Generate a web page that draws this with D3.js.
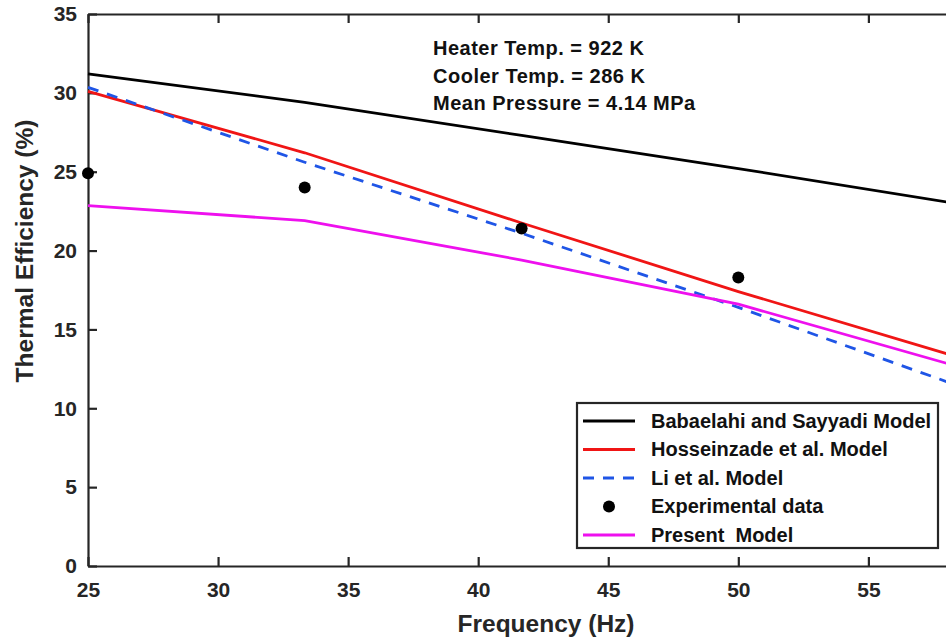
<!DOCTYPE html>
<html lang="en">
<head>
	<meta charset="UTF-8">
	<title>Thermal efficiency vs frequency</title>
	<script src="https://cdn.jsdelivr.net/npm/d3@7"></script>
	<style type="text/css">
		body { margin: 0; background: #fff; }
		svg { display: block; font-family: "Liberation Sans", Arial, sans-serif; font-weight: bold; }
		.axis path, .axis line { stroke: #262626; stroke-width: 2.2; }
		.axis text { fill: #262626; font-size: 21px; font-weight: bold; font-family: "Liberation Sans", Arial, sans-serif; }
		.series { fill: none; stroke-width: 2.8; }
		.legend text { font-size: 20px; fill: #111; white-space: pre; }
		.note text { font-size: 20px; fill: #111; letter-spacing: 0.5px; }
	</style>
</head>
<body>

<script type="text/javascript">
	// data
	var freq = [25, 33.33, 41.67, 50, 58.33];
	var babaelahi = [31.2, 29.4, 27.3, 25.2, 23.0];
	var hosseinzade = [30.1, 26.2, 21.75, 17.4, 13.3];
	var li = [30.35, 25.6, 21.1, 16.4, 11.5];
	var present = [22.85, 21.9, 19.4, 16.6, 12.7];
	var expFreq = [25, 33.33, 41.67, 50];
	var expEff = [24.9, 24.0, 21.4, 18.3];
	var xTicks = [25, 30, 35, 40, 45, 50, 55];
	var yTicks = [0, 5, 10, 15, 20, 25, 30, 35];
	var notes = ['Heater Temp. = 922 K', 'Cooler Temp. = 286 K', 'Mean Pressure = 4.14 MPa'];

	var width = 946, height = 641;
	var margin = {left: 88, right: 955, top: 14, bottom: 566};

	var svg = d3.select('body').append('svg')
		.attr('width', width)
		.attr('height', height);

	var x = d3.scaleLinear().domain([25, 58.33]).range([margin.left, margin.right]);
	var y = d3.scaleLinear().domain([0, 35]).range([margin.bottom, margin.top]);

	var series = [
		{name: 'Babaelahi and Sayyadi Model', values: babaelahi, color: '#000000', dash: null},
		{name: 'Hosseinzade et al. Model', values: hosseinzade, color: '#f01515', dash: null},
		{name: 'Li et al. Model', values: li, color: '#1f55e6', dash: '11,9'},
		{name: 'Experimental data', values: null, color: '#000000', dash: null},
		{name: 'Present  Model', values: present, color: '#ee10ee', dash: null}
	];

	var line = d3.line()
		.x(function (d) { return x(d[0]); })
		.y(function (d) { return y(d[1]); });

	// axes (box with inner ticks)
	svg.append('g').attr('class', 'axis')
		.attr('transform', 'translate(0,' + margin.bottom + ')')
		.call(d3.axisBottom(x).tickValues(xTicks).tickSizeInner(-9).tickSizeOuter(0).tickPadding(16));
	svg.append('g').attr('class', 'axis')
		.attr('transform', 'translate(0,' + margin.top + ')')
		.call(d3.axisTop(x).tickValues(xTicks).tickSizeInner(-9).tickSizeOuter(0).tickFormat(''));
	svg.append('g').attr('class', 'axis')
		.attr('transform', 'translate(' + margin.left + ',0)')
		.call(d3.axisLeft(y).tickValues(yTicks).tickSizeInner(-9).tickSizeOuter(0).tickPadding(11));
	svg.append('g').attr('class', 'axis')
		.attr('transform', 'translate(' + margin.right + ',0)')
		.call(d3.axisRight(y).tickValues(yTicks).tickSizeInner(-9).tickSizeOuter(0).tickFormat(''));

	// lines
	series.forEach(function (s) {
		if (!s.values) return;
		svg.append('path')
			.attr('class', 'series')
			.attr('d', line(freq.map(function (f, i) { return [f, s.values[i]]; })))
			.style('stroke', s.color)
			.style('stroke-dasharray', s.dash);
	});

	// experimental points
	svg.selectAll('.dot')
		.data(expFreq)
		.enter().append('circle')
		.attr('class', 'dot')
		.attr('cx', function (d) { return x(d); })
		.attr('cy', function (d, i) { return y(expEff[i]); })
		.attr('r', 6)
		.style('fill', '#000');

	// axis titles
	svg.append('text')
		.attr('x', 546).attr('y', 632)
		.attr('text-anchor', 'middle')
		.style('font-size', '24.5px').style('fill', '#262626')
		.text('Frequency (Hz)');
	svg.append('text')
		.attr('transform', 'translate(33,251) rotate(-90)')
		.attr('text-anchor', 'middle')
		.style('font-size', '24.5px').style('fill', '#262626')
		.text('Thermal Efficiency (%)');

	// operating conditions
	svg.append('g').attr('class', 'note')
		.selectAll('text')
		.data(notes)
		.enter().append('text')
		.attr('x', 433)
		.attr('y', function (d, i) { return 55 + i * 27.5; })
		.text(function (d) { return d; });

	// legend
	var legend = svg.append('g').attr('class', 'legend');
	legend.append('rect')
		.attr('x', 577).attr('y', 403)
		.attr('width', 361).attr('height', 145)
		.style('fill', '#fff').style('stroke', '#262626').style('stroke-width', 2.2);

	var rows = legend.selectAll('.row')
		.data(series)
		.enter().append('g')
		.attr('class', 'row')
		.attr('transform', function (d, i) { return 'translate(0,' + (421 + i * 28.5) + ')'; });

	rows.filter(function (d) { return d.values; })
		.append('line')
		.attr('x1', 583).attr('x2', 635)
		.attr('y1', 0).attr('y2', 0)
		.style('stroke', function (d) { return d.color; })
		.style('stroke-width', 2.8)
		.style('stroke-dasharray', function (d) { return d.dash; });

	rows.filter(function (d) { return !d.values; })
		.append('circle')
		.attr('cx', 609).attr('cy', 0).attr('r', 6)
		.style('fill', '#000');

	rows.append('text')
		.attr('x', 651).attr('y', 6.8)
		.text(function (d) { return d.name; });
</script>

</body>
</html>
